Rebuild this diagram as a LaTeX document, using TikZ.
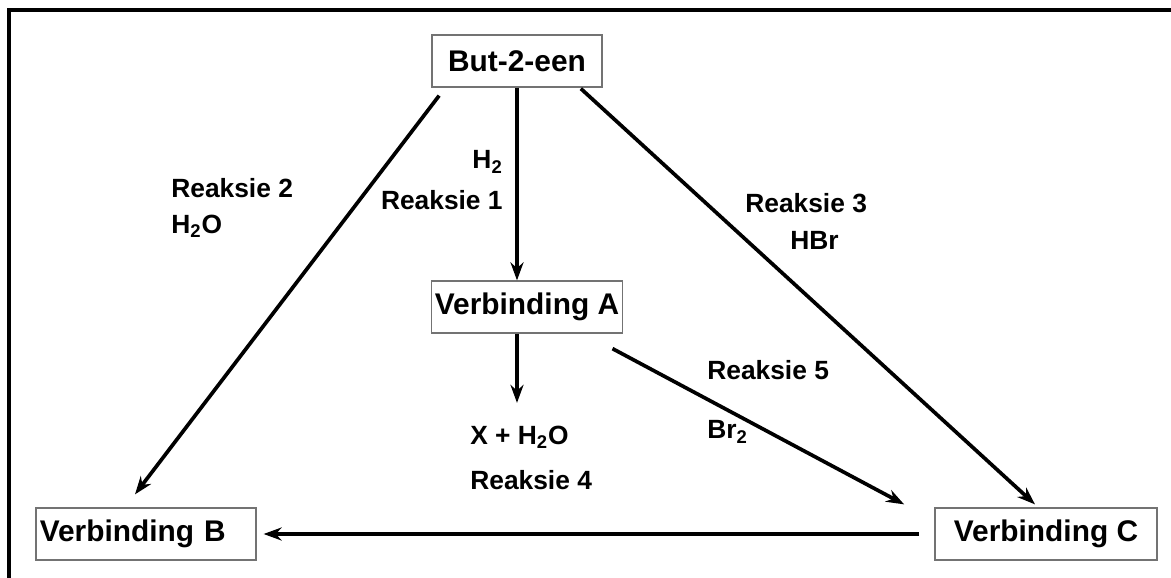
\documentclass[tikz,border=0pt]{standalone}
\usepackage{fontspec}
\setmainfont{Liberation Sans}
\usetikzlibrary{arrows.meta,calc}

\begin{document}
\begin{tikzpicture}[x=0.02cm,y=-0.02cm,
                    box/.style={draw=gray!90!black,line width=1pt,fill=white,
                      font=\fontsize{17}{20}\selectfont\bfseries,minimum height=1.03cm,inner sep=2pt},
                    lbl/.style={font=\fontsize{15}{18}\selectfont\bfseries,inner sep=0pt},
                    rxn/.style={line width=2.1pt,-{Stealth[length=0.36cm,width=0.26cm]}}
]
\useasboundingbox (0,0) rectangle (1171,578);
\draw[line width=2.4pt] (9,578) -- (9,10) -- (1171,10);
%
\node [box, minimum width=3.4cm] at (517,61) (but) {But-2-een};
\node [box, minimum width=3.82cm] at (527,307) (va) {Verbinding A};
\node [box, minimum width=4.36cm, text width=4.25cm, align=left] at (146,534) (vb) {Verbinding B};
\node [box, minimum width=4.44cm] at (1046,534) (vc) {Verbinding C};
\node [lbl, anchor=west] at (470,437) (x) {X + H\textsubscript{2}O};
%
\node [lbl, anchor=east] at (503,162) (h2) {H\textsubscript{2}};
\node [lbl, anchor=east] at (503,200) (r1) {Reaksie 1};
\node [lbl, anchor=west] at (171,188) (r2) {Reaksie 2};
\node [lbl, anchor=west] at (171,226) (h2o) {H\textsubscript{2}O};
\node [lbl, anchor=west] at (745,203) (r3) {Reaksie 3};
\node [lbl, anchor=west] at (790,240) (hbr) {HBr};
\node [lbl, anchor=west] at (470,480) (r4) {Reaksie 4};
\node [lbl, anchor=west] at (707,370) (r5) {Reaksie 5};
\node [lbl, anchor=west] at (707,432) (br2) {Br\textsubscript{2}};
%
\draw[rxn] (but.south) -- (but.south |- va.north);
\draw[rxn] ($(but.south west)+(8,8)$) -- ($(vb.north)+(-11,-13)$);
\draw[rxn] ($(but.south east)+(-22,1)$) -- ($(vc.north)+(-11,-3)$);
\draw[rxn, shorten >=0.45cm] (va.south -| but.south) -- (x.north -| but.south);
\draw[rxn] ($(va.south east)+(-11,15)$) -- ($(vc.north west)+(-30,-3)$);
\draw[rxn, shorten <=0.3cm, shorten >=0.14cm] (vc.west) -- (vb.east);
\end{tikzpicture}
\end{document}
